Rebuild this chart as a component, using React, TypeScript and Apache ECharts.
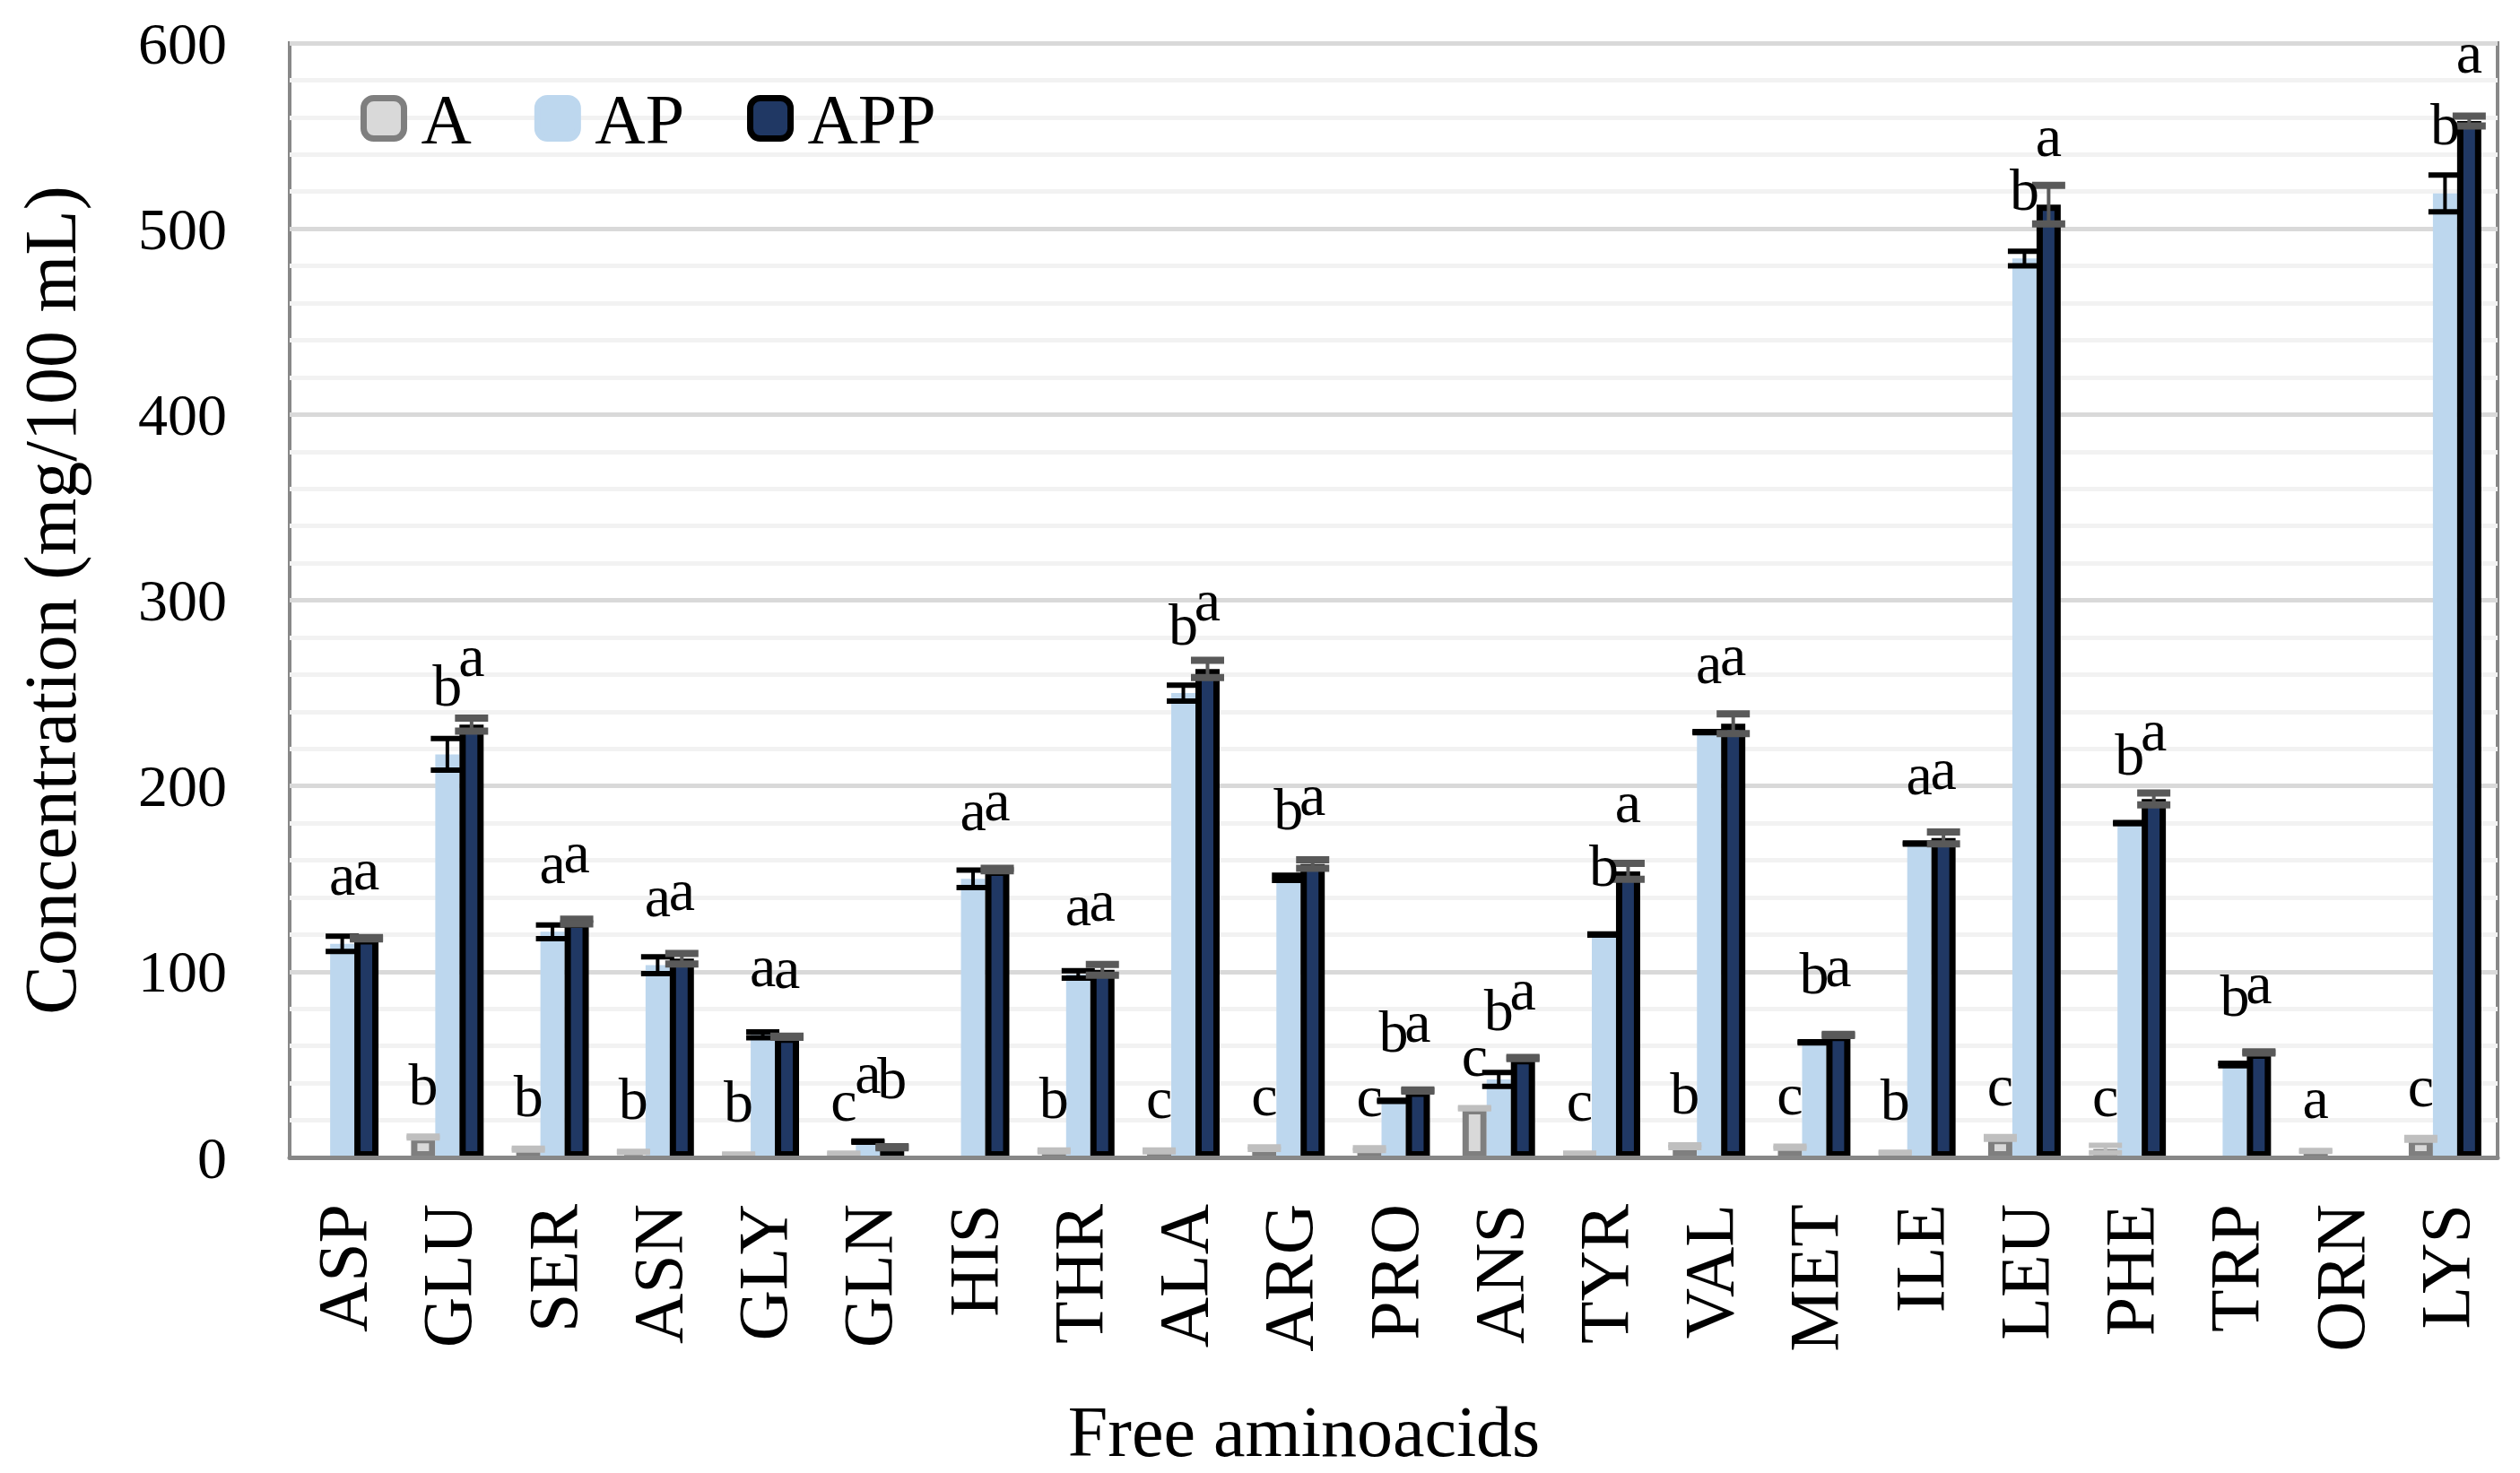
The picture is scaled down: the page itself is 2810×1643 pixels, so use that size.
import React, { useEffect, useRef } from "react";
import * as echarts from "echarts";

const categories = ["ASP", "GLU", "SER", "ASN", "GLY", "GLN", "HIS", "THR", "ALA", "ARG", "PRO", "ANS", "TYR", "VAL", "MET", "ILE", "LEU", "PHE", "TRP", "ORN", "LYS"];
const seriesNames = ["A", "AP", "APP"];

const valuesA = [null, 11, 4.5, 3, 1.5, 2, null, 3.5, 3.5, 5, 4.5, 26.5, 2, 6, 5.5, 2.5, 10.5, 4.5, null, 3.5, 10];
const errorsA = [null, 0.5, 0.5, 0.3, 0.3, 0.3, null, 0.5, 0.5, 0.7, 0.7, 0.3, 0.3, 0.7, 0.5, 0.3, 0.7, 2, null, 0.3, 0.7];
const valuesAP = [115, 217, 121.5, 103.5, 66, 8.5, 150, 98.5, 250, 150.5, 30.5, 42, 120, 229, 62, 169, 484, 180, 50, null, 519];
const errorsAP = [4.1, 8.5, 3.7, 4.5, 1.6, 0.3, 4.7, 2, 4.3, 1.4, 0.3, 3.7, 0.3, 0.3, 0.3, 0.3, 3.9, 0.3, 0.7, null, 9.9];
const valuesAPP = [118, 233, 127, 107, 65, 5.5, 155, 101, 263, 158, 36, 53.5, 154, 233.5, 66, 172, 513, 193, 56.5, null, 558];
const errorsAPP = [0.4, 3.5, 1.3, 2.8, 0.3, 0.3, 0.7, 2.9, 4.6, 2.3, 0.3, 0.3, 4.3, 5.3, 0.3, 3.2, 10.4, 3.2, 0.3, null, 2.6];

const lettersA = ["", "b", "b", "b", "b", "c", "", "b", "c", "c", "c", "c", "c", "b", "c", "b", "c", "c", "", "a", "c"];
const lettersAP = ["a", "b", "a", "a", "a", "a", "a", "a", "b", "b", "b", "b", "b", "a", "b", "a", "b", "b", "b", "", "b"];
const lettersAPP = ["a", "a", "a", "a", "a", "b", "a", "a", "a", "a", "a", "a", "a", "a", "a", "a", "a", "a", "a", "", "a"];

const yTicks = { min: 0, max: 600, interval: 100 };

const FONT = "Liberation Serif";
const CAT_GAP = 0.31;

const barFill = ["#d9d9d9", "#bdd7ee", "#203864"];
const barBorder = ["#7f7f7f", "#bdd7ee", "#000000"];
const barBorderW = [7, 0, 7];
const errColor = ["#bfbfbf", "#000000", "#595959"];
const capThick = [6, 6, 8];
const labelDist = [26, 44, 44];

const allValues = [valuesA, valuesAP, valuesAPP];
const allErrors = [errorsA, errorsAP, errorsAPP];
const allLetters = [lettersA, lettersAP, lettersAPP];

function barOffset(api: any, s: number) {
  const band = api.size([1, 0])[0];
  const bw = (band * (1 - CAT_GAP)) / 3;
  return (s - 1) * bw;
}

export default function App() {
  const ref = useRef<HTMLDivElement>(null);
  useEffect(() => {
    document.body.style.margin = "0";
    const chart = echarts.init(ref.current!, null, { renderer: "svg" });

    const barSeries = seriesNames.map((name, s) => ({
      name,
      type: "bar",
      data: allValues[s].map((v) => (v == null ? "-" : v)),
      barGap: "0%",
      barCategoryGap: "31%",
      z: s === 2 ? 4 : 2,
      itemStyle: {
        color: barFill[s],
        borderColor: barBorder[s],
        borderWidth: barBorderW[s],
      },
    }));

    const errSeries = seriesNames.map((name, s) => ({
      name: name + "-err",
      type: "custom",
      z: s === 2 ? 5 : 3,
      encode: { x: 0, y: 1 },
      data: allValues[s]
        .map((v, i) => (v == null ? null : [i, v, allErrors[s][i]]))
        .filter((d) => d !== null),
      renderItem: (params: any, api: any) => {
        const i = api.value(0);
        const v = api.value(1);
        const e = api.value(2);
        const c = api.coord([i, v]);
        const x = c[0] + barOffset(api, s);
        const yTop = api.coord([i, v + e])[1];
        const yBot = api.coord([i, v - e])[1];
        const half = 18.5;
        return {
          type: "group",
          children: [
            { type: "line", shape: { x1: x, y1: yTop, x2: x, y2: yBot }, style: { stroke: errColor[s], lineWidth: 4 } },
            { type: "line", shape: { x1: x - half, y1: yTop, x2: x + half, y2: yTop }, style: { stroke: errColor[s], lineWidth: capThick[s] } },
            { type: "line", shape: { x1: x - half, y1: yBot, x2: x + half, y2: yBot }, style: { stroke: errColor[s], lineWidth: capThick[s] } },
          ],
        };
      },
    }));

    const labelSeries = seriesNames.map((name, s) => ({
      name: name + "-lbl",
      type: "custom",
      z: 10,
      encode: { x: 0, y: 1 },
      data: allValues[s]
        .map((v, i) => (v == null || !allLetters[s][i] ? null : [i, v]))
        .filter((d) => d !== null),
      renderItem: (params: any, api: any) => {
        const i = api.value(0);
        const v = api.value(1);
        const c = api.coord([i, v]);
        const x = c[0] + barOffset(api, s);
        return {
          type: "text",
          x,
          y: c[1] - labelDist[s],
          style: {
            text: allLetters[s][i],
            fill: "#000",
            fontSize: 66,
            fontFamily: FONT,
            align: "center",
            verticalAlign: "bottom",
          },
        };
      },
    }));

    chart.setOption({
      animation: false,
      backgroundColor: "#ffffff",
      textStyle: { fontFamily: FONT },
      grid: {
        left: 323,
        right: 25,
        top: 48,
        bottom: 352,
        show: true,
        borderColor: "#888888",
        borderWidth: 4,
        containLabel: false,
      },
      legend: {
        left: 397,
        top: 88,
        itemWidth: 45,
        itemHeight: 45,
        itemGap: 70,
        icon: "roundRect",
        textStyle: { fontSize: 78, fontFamily: FONT, color: "#000", padding: [0, 0, 0, 14] },
        data: [
          { name: "A", itemStyle: { color: barFill[0], borderColor: barBorder[0], borderWidth: 7 } },
          { name: "AP", itemStyle: { color: barFill[1], borderColor: barBorder[1], borderWidth: 7 } },
          { name: "APP", itemStyle: { color: barFill[2], borderColor: barBorder[2], borderWidth: 7 } },
        ],
      },
      xAxis: {
        type: "category",
        data: categories,
        axisTick: { show: false },
        axisLine: { show: true, lineStyle: { color: "#878787", width: 5 } },
        axisLabel: {
          rotate: 90,
          fontSize: 78,
          fontFamily: FONT,
          color: "#000",
          margin: 52,
          interval: 0,
        },
        splitLine: { show: false },
        z: 6,
      },
      yAxis: {
        type: "value",
        min: yTicks.min,
        max: yTicks.max,
        interval: yTicks.interval,
        name: "Concentration (mg/100 mL)",
        nameLocation: "middle",
        nameGap: 226,
        nameRotate: 90,
        nameTextStyle: { fontSize: 82, fontFamily: FONT, color: "#000" },
        axisLine: { show: false },
        axisTick: { show: false },
        axisLabel: { fontSize: 66, fontFamily: FONT, color: "#000", margin: 70 },
        splitLine: { show: true, lineStyle: { color: "#d9d9d9", width: 5 } },
        minorTick: { show: false, splitNumber: 5 },
        minorSplitLine: { show: true, lineStyle: { color: "#f2f2f2", width: 5 } },
      },
      graphic: [
        {
          type: "text",
          x: 1454,
          y: 1597,
          style: {
            text: "Free aminoacids",
            fontSize: 80,
            fontFamily: FONT,
            fill: "#000",
            align: "center",
            verticalAlign: "middle",
            textAlign: "center",
            textVerticalAlign: "middle",
          },
        },
      ],
      series: [...barSeries, ...errSeries, ...labelSeries],
    });
    return () => chart.dispose();
  }, []);
  return <div ref={ref} style={{ width: 2810, height: 1643 }} />;
}
